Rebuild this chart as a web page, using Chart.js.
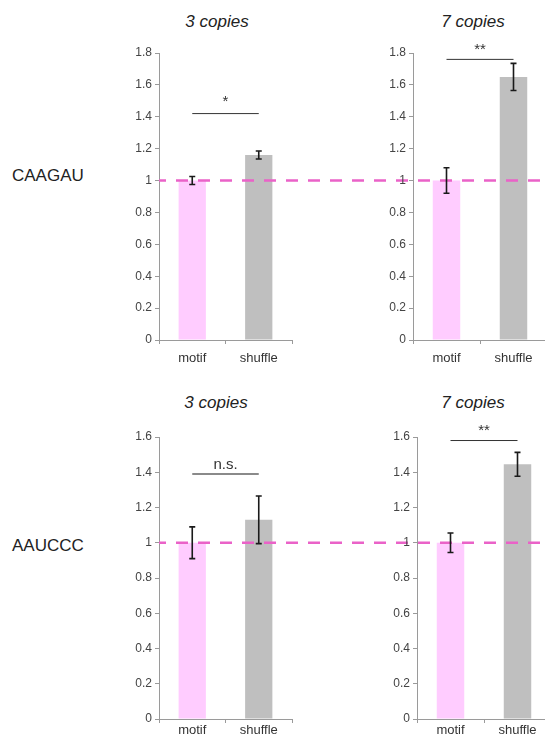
<!DOCTYPE html>
<html>
<head>
<meta charset="utf-8">
<script src="https://cdn.jsdelivr.net/npm/chart.js@4"></script>
<style>
  html, body { margin: 0; padding: 0; background: #fff; overflow: hidden; }
  body { width: 545px; height: 743px; position: relative; font-family: "Liberation Sans", Arial, sans-serif; }
  canvas { position: absolute; }
  .title { position: absolute; font-style: italic; font-size: 17px; color: #222; transform: translate(-50%, -50%); white-space: nowrap; }
  .rowlabel { position: absolute; font-size: 17px; color: #222; transform: translateY(-50%); }
</style>
</head>
<body>
<div class="title" style="left:217px; top:22px;">3 copies</div>
<div class="title" style="left:473px; top:22px;">7 copies</div>
<div class="title" style="left:216px; top:403px;">3 copies</div>
<div class="title" style="left:473px; top:403px;">7 copies</div>
<div class="rowlabel" style="left:12px; top:176px;">CAAGAU</div>
<div class="rowlabel" style="left:12px; top:546px;">AAUCCC</div>

<canvas id="c1" width="313" height="340" style="left:100px; top:30px;"></canvas>
<canvas id="c2" width="190" height="340" style="left:360px; top:30px;"></canvas>
<canvas id="c3" width="317" height="343" style="left:100px; top:400px;"></canvas>
<canvas id="c4" width="195" height="343" style="left:360px; top:400px;"></canvas>

<script>
// data
const categories = ['motif', 'shuffle'];

const caagau3Means = [1.0, 1.16];
const caagau3Errors = [0.025, 0.025];
const caagau7Means = [1.0, 1.65];
const caagau7Errors = [0.08, 0.085];
const aauccc3Means = [1.0, 1.13];
const aauccc3Errors = [0.09, 0.135];
const aauccc7Means = [1.0, 1.445];
const aauccc7Errors = [0.055, 0.068];

const yMaxes = [1.8, 1.8, 1.6, 1.6];
const sigLabels = ['*', '**', 'n.s.', '**'];
const sigLevels = [1.42, 1.76, 1.39, 1.58];
const baselineValue = 1;

const barColors = ['#ffccff', '#bfbfbf'];
const axisGrey = '#9a9a9a';
const fontFamily = '"Liberation Sans", Arial, sans-serif';

// error bars, significance bracket and the dashed baseline
const overlayPlugin = {
    id: 'overlay',
    afterDatasetsDraw(chart, args, opts) {
        const ctx = chart.ctx;
        const yScale = chart.scales.y;
        const area = chart.chartArea;
        const meta = chart.getDatasetMeta(0);
        const ds = chart.data.datasets[0];

        // dashed reference line at 1, runs to the canvas edge
        const yBase = yScale.getPixelForValue(baselineValue);
        ctx.save();
        ctx.strokeStyle = '#ea62c8';
        ctx.lineWidth = 2.5;
        ctx.setLineDash([12, 10]);
        ctx.lineDashOffset = chart.canvas.offsetLeft + area.left;
        ctx.beginPath();
        ctx.moveTo(area.left, yBase);
        ctx.lineTo(chart.width, yBase);
        ctx.stroke();
        ctx.restore();

        // error bars
        ctx.save();
        ctx.strokeStyle = '#1a1a1a';
        ctx.lineWidth = 1.6;
        meta.data.forEach((bar, i) => {
            const top = yScale.getPixelForValue(ds.data[i] + opts.errors[i]);
            const bot = yScale.getPixelForValue(ds.data[i] - opts.errors[i]);
            ctx.beginPath();
            ctx.moveTo(bar.x, top);
            ctx.lineTo(bar.x, bot);
            ctx.moveTo(bar.x - 3, top);
            ctx.lineTo(bar.x + 3, top);
            ctx.moveTo(bar.x - 3, bot);
            ctx.lineTo(bar.x + 3, bot);
            ctx.stroke();
        });
        ctx.restore();

        // significance bracket
        const ySig = yScale.getPixelForValue(opts.sigLevel);
        ctx.save();
        ctx.strokeStyle = opts.sigColor;
        ctx.lineWidth = opts.sigWidth;
        ctx.beginPath();
        ctx.moveTo(meta.data[0].x, ySig);
        ctx.lineTo(meta.data[1].x, ySig);
        ctx.stroke();
        ctx.fillStyle = '#333';
        ctx.font = '15px ' + fontFamily;
        ctx.textAlign = 'center';
        ctx.textBaseline = 'bottom';
        ctx.fillText(opts.sigLabel, (meta.data[0].x + meta.data[1].x) / 2, ySig - opts.sigGap);
        ctx.restore();
    }
};

function makePanel(id, means, errors, idx, layout) {
    return new Chart(document.getElementById(id), {
        type: 'bar',
        data: {
            labels: categories,
            datasets: [{
                data: means,
                backgroundColor: barColors,
                borderWidth: 0,
                categoryPercentage: 1.0,
                barPercentage: 0.41,
            }],
        },
        plugins: [overlayPlugin],
        options: {
            responsive: false,
            animation: false,
            events: [],
            layout: { padding: { top: layout.padTop, right: layout.padRight, left: 0, bottom: 0 } },
            plugins: {
                legend: { display: false },
                tooltip: { enabled: false },
                overlay: {
                    errors: errors,
                    sigLevel: sigLevels[idx],
                    sigLabel: sigLabels[idx],
                    sigColor: layout.sigColor,
                    sigWidth: layout.sigWidth,
                    sigGap: layout.sigGap,
                },
            },
            scales: {
                x: {
                    afterFit: (s) => { s.height = layout.xHeight; },
                    border: { color: axisGrey, width: 1 },
                    grid: { display: true, drawOnChartArea: false, drawTicks: true, tickLength: 4, color: axisGrey, offset: true },
                    ticks: { color: '#333', font: { family: fontFamily, size: 13 }, padding: layout.labelPad },
                },
                y: {
                    min: 0,
                    max: yMaxes[idx],
                    afterFit: (s) => { s.width = layout.yWidth; },
                    border: { color: axisGrey, width: 1 },
                    grid: { display: true, drawOnChartArea: false, drawTicks: true, tickLength: 4, color: axisGrey },
                    ticks: {
                        stepSize: 0.2,
                        color: '#444',
                        font: { family: fontFamily, size: 12 },
                        padding: 3,
                        callback: (v) => String(Math.round(v * 10) / 10),
                    },
                },
            },
        },
    });
}

makePanel('c1', caagau3Means, caagau3Errors, 0,
    { padTop: 23, padRight: 121, xHeight: 30, yWidth: 59, labelPad: 7, sigColor: '#333', sigWidth: 1, sigGap: 4 });
makePanel('c2', caagau7Means, caagau7Errors, 1,
    { padTop: 23, padRight: 3, xHeight: 30, yWidth: 53, labelPad: 7, sigColor: '#333', sigWidth: 1, sigGap: 2 });
makePanel('c3', aauccc3Means, aauccc3Errors, 2,
    { padTop: 37, padRight: 125, xHeight: 24, yWidth: 59, labelPad: 0, sigColor: '#8a8a8a', sigWidth: 2, sigGap: 2 });
makePanel('c4', aauccc7Means, aauccc7Errors, 3,
    { padTop: 37, padRight: 4, xHeight: 24, yWidth: 57, labelPad: 0, sigColor: '#333', sigWidth: 1, sigGap: 2 });
</script>
</body>
</html>
